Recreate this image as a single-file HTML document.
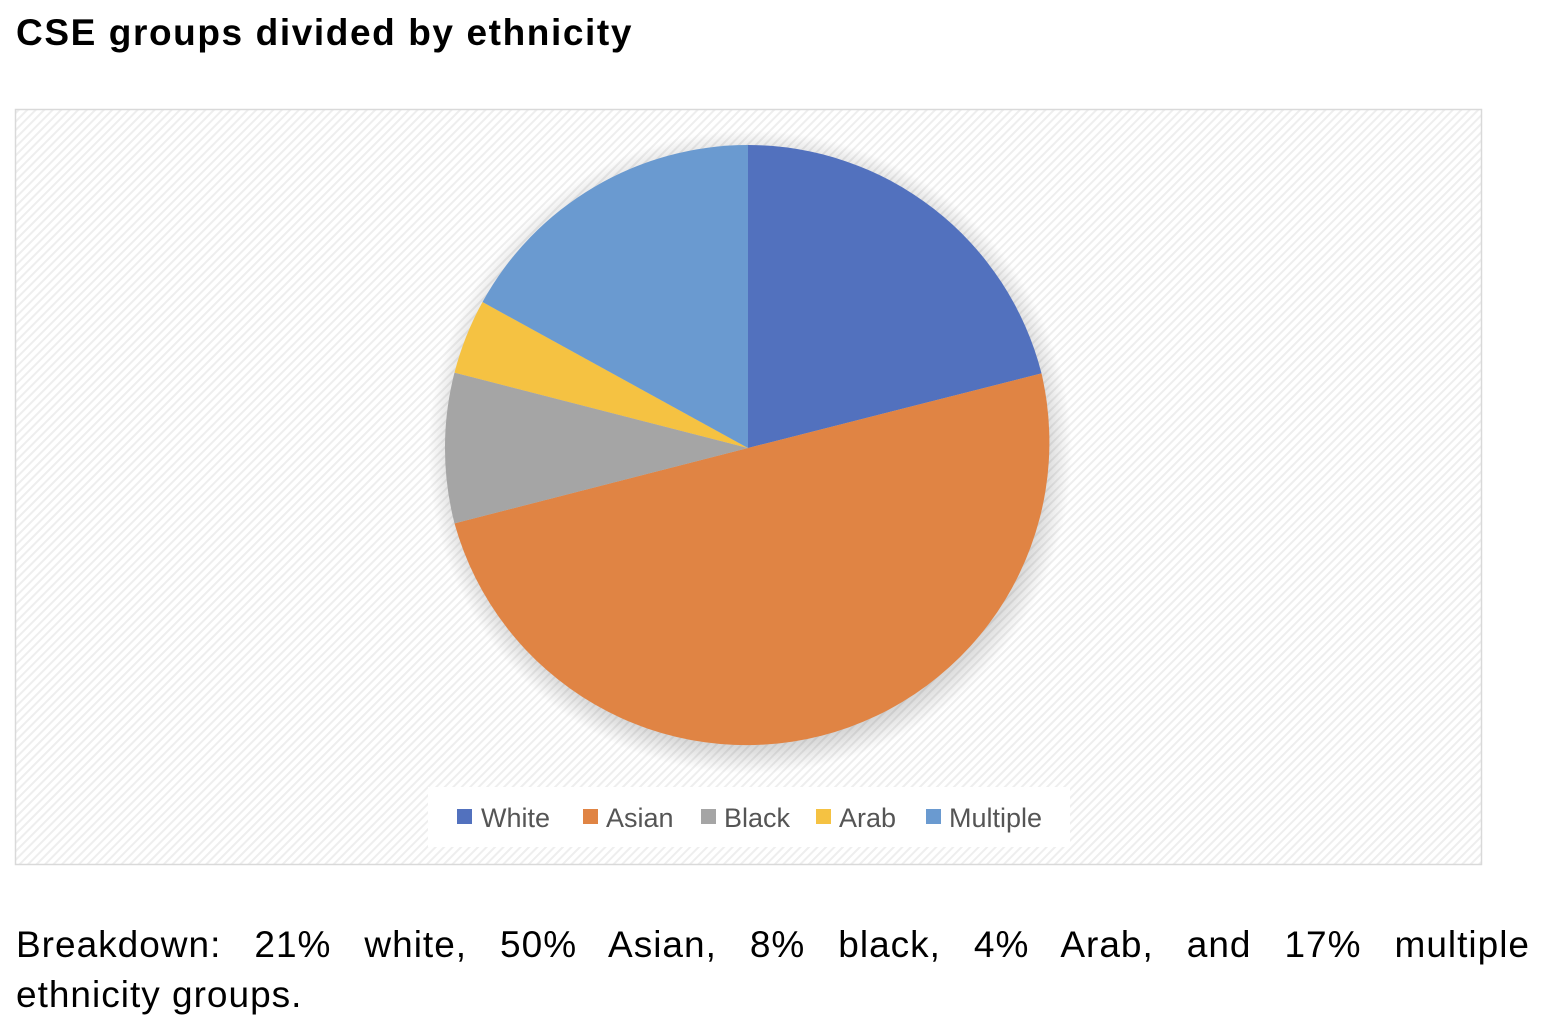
<!DOCTYPE html>
<html><head><meta charset="utf-8"><style>
body{margin:0;width:1544px;height:1028px;background:#fff;position:relative;font-family:"Liberation Sans",sans-serif;overflow:hidden}
.title{position:absolute;left:16px;top:12px;font-size:37px;font-weight:bold;color:#000;letter-spacing:1.6px}
.note{position:absolute;left:16px;top:920px;width:1514px;font-size:37px;line-height:50px;color:#000;letter-spacing:1px}
.l1{display:block;text-align:justify;text-align-last:justify}
svg{position:absolute;left:0;top:0}
</style></head><body>
<div class="title">CSE groups divided by ethnicity</div>
<svg width="1544" height="900">
<defs>
<pattern id="h" width="6" height="6" patternUnits="userSpaceOnUse" patternTransform="rotate(45)">
<rect width="6" height="6" fill="#fff"/><rect width="2" height="6" fill="#eeeeee"/>
</pattern>
<radialGradient id="sh" cx="0.5" cy="0.5" r="0.5">
<stop offset="0.9" stop-color="#000" stop-opacity="0.18"/><stop offset="1" stop-color="#000" stop-opacity="0"/>
</radialGradient>
</defs>
<rect x="15.5" y="109.5" width="1466" height="755" fill="url(#h)" stroke="#d9d9d9" stroke-width="1.5"/>
<circle cx="750" cy="452" r="322" fill="url(#sh)"/>
<path d="M748,448 L748,145 A303,303 0 0 1 1041.5,373.4 Z" fill="#5271be"/>
<path d="M748,448 L1041.5,373.4 A303,303 0 0 1 454.5,523.4 Z" fill="#e08444"/>
<path d="M748,448 L454.5,523.4 A303,303 0 0 1 454.5,372.6 Z" fill="#a5a5a5"/>
<path d="M748,448 L454.5,372.6 A303,303 0 0 1 482.5,302 Z" fill="#f5c242"/>
<path d="M748,448 L482.5,302 A303,303 0 0 1 748,145 Z" fill="#6a9ad0"/>
<rect x="428" y="787" width="642" height="60" fill="#fff"/>
<g font-family="Liberation Sans, sans-serif" font-size="27" fill="#555">
<rect x="457" y="809" width="15" height="15" fill="#5271be"/><text x="481" y="827">White</text>
<rect x="583" y="809" width="15" height="15" fill="#e08444"/><text x="606" y="827">Asian</text>
<rect x="701" y="809" width="15" height="15" fill="#a5a5a5"/><text x="724" y="827">Black</text>
<rect x="816" y="809" width="15" height="15" fill="#f5c242"/><text x="839" y="827">Arab</text>
<rect x="926" y="809" width="15" height="15" fill="#6a9ad0"/><text x="949" y="827">Multiple</text>
</g>
</svg>
<div class="note"><span class="l1">Breakdown: 21% white, 50% Asian, 8% black, 4% Arab, and 17% multiple</span>ethnicity groups.</div>
</body></html>
